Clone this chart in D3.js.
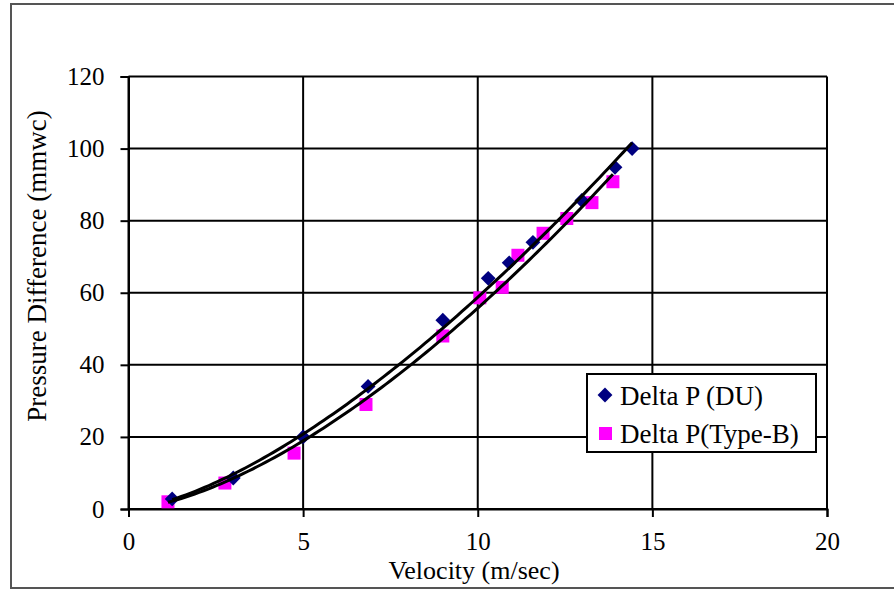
<!DOCTYPE html>
<html>
<head>
<meta charset="utf-8">
<script src="https://cdn.jsdelivr.net/npm/d3@7"></script>
<style>
  body { margin: 0; background: #fff; }
  svg text { font-family: "Liberation Serif", "Times New Roman", serif; fill: #000; }
</style>
</head>
<body>
<svg id="chart" width="894" height="589"></svg>
<script>
// velocity (m/sec) and pressure difference (mmwc)
var duVelocity = [1.25, 3.0, 5.0, 6.86, 9.0, 10.3, 10.9, 11.58, 12.98, 13.93, 14.42];
var duPressure = [2.8, 8.6, 20, 34, 52.4, 64, 68.3, 74, 85.6, 94.8, 100];

var typeBVelocity = [1.13, 2.76, 4.74, 6.8, 9.0, 10.06, 10.7, 11.15, 11.87, 12.55, 13.27, 13.87];
var typeBPressure = [2, 7.2, 15.5, 29, 48, 58.6, 61.5, 70.4, 76.5, 80.6, 85, 90.8];

var xTicks = [0, 5, 10, 15, 20];
var yTicks = [0, 20, 40, 60, 80, 100, 120];

var seriesNames = ["Delta P (DU)", "Delta P(Type-B)"];

var svg = d3.select("#chart");

// outer frame of the chart object
svg.append("rect")
  .attr("x", 11).attr("y", 4)
  .attr("width", 900).attr("height", 584)
  .attr("fill", "none")
  .attr("stroke", "#555")
  .attr("stroke-width", 2);

var x = d3.scaleLinear().domain([0, 20]).range([128.5, 827]);
var y = d3.scaleLinear().domain([0, 120]).range([509, 76.5]);

// gridlines
svg.append("g").selectAll("line")
  .data(yTicks)
  .enter().append("line")
  .attr("x1", x(0)).attr("x2", x(20))
  .attr("y1", function(d) { return y(d); })
  .attr("y2", function(d) { return y(d); })
  .attr("stroke", "#000").attr("stroke-width", 2);

svg.append("g").selectAll("line")
  .data(xTicks)
  .enter().append("line")
  .attr("y1", y(0)).attr("y2", y(120))
  .attr("x1", function(d) { return x(d); })
  .attr("x2", function(d) { return x(d); })
  .attr("stroke", "#000").attr("stroke-width", 2);

// axes
var xAxis = svg.append("g")
  .attr("transform", "translate(0," + y(0) + ")")
  .call(d3.axisBottom(x).tickValues(xTicks).tickSize(8).tickPadding(15));
var yAxis = svg.append("g")
  .attr("transform", "translate(" + x(0) + ",0)")
  .call(d3.axisLeft(y).tickValues(yTicks).tickSize(8).tickPadding(16));

[xAxis, yAxis].forEach(function(ax) {
  ax.select(".domain").attr("stroke", "#000").attr("stroke-width", 2);
  ax.selectAll(".tick line").attr("stroke", "#000").attr("stroke-width", 2);
  ax.selectAll(".tick text")
    .attr("font-size", 25)
    .attr("fill", "#000");
});

// markers
var du = duVelocity.map(function(v, i) { return [v, duPressure[i]]; });
var typeB = typeBVelocity.map(function(v, i) { return [v, typeBPressure[i]]; });

svg.append("g").selectAll("rect")
  .data(typeB)
  .enter().append("rect")
  .attr("x", function(d) { return x(d[0]) - 6.5; })
  .attr("y", function(d) { return y(d[1]) - 6.5; })
  .attr("width", 13).attr("height", 13)
  .attr("fill", "#ff00ff");

var diamond = d3.symbol().type(d3.symbolDiamond2).size(140);
svg.append("g").selectAll("path")
  .data(du)
  .enter().append("path")
  .attr("d", diamond)
  .attr("transform", function(d) { return "translate(" + x(d[0]) + "," + y(d[1]) + ")"; })
  .attr("fill", "#000080");

// power trendlines, least squares in log space like the spreadsheet does
function powerFit(pts) {
  var lx = pts.map(function(p) { return Math.log(p[0]); });
  var ly = pts.map(function(p) { return Math.log(p[1]); });
  var mx = d3.mean(lx), my = d3.mean(ly);
  var sxy = d3.sum(lx, function(v, i) { return (v - mx) * (ly[i] - my); });
  var sxx = d3.sum(lx, function(v) { return (v - mx) * (v - mx); });
  var b = sxy / sxx;
  var a = Math.exp(my - b * mx);
  var lo = d3.min(pts, function(p) { return p[0]; });
  var hi = d3.max(pts, function(p) { return p[0]; });
  return d3.range(0, 101).map(function(k) {
    var v = lo + (hi - lo) * k / 100;
    return [v, a * Math.pow(v, b)];
  });
}

var line = d3.line()
  .x(function(d) { return x(d[0]); })
  .y(function(d) { return y(d[1]); });

[du, typeB].forEach(function(pts) {
  svg.append("path")
    .attr("d", line(powerFit(pts)))
    .attr("fill", "none")
    .attr("stroke", "#000")
    .attr("stroke-width", 3);
});

// axis titles
svg.append("text")
  .attr("x", 474).attr("y", 579)
  .attr("text-anchor", "middle")
  .attr("font-size", 26)
  .text("Velocity (m/sec)");

svg.append("text")
  .attr("transform", "translate(46,266) rotate(-90)")
  .attr("text-anchor", "middle")
  .attr("font-size", 27)
  .text("Pressure Difference (mmwc)");

// legend
var legend = svg.append("g");
legend.append("rect")
  .attr("x", 587).attr("y", 374)
  .attr("width", 229).attr("height", 78)
  .attr("fill", "#fff")
  .attr("stroke", "#000")
  .attr("stroke-width", 2);

legend.append("path")
  .attr("d", diamond)
  .attr("transform", "translate(605,395)")
  .attr("fill", "#000080");
legend.append("rect")
  .attr("x", 599).attr("y", 427)
  .attr("width", 13).attr("height", 13)
  .attr("fill", "#ff00ff");

legend.selectAll("text")
  .data(seriesNames)
  .enter().append("text")
  .attr("x", 620)
  .attr("y", function(d, i) { return 405 + i * 38; })
  .attr("font-size", 27)
  .text(function(d) { return d; });
</script>
</body>
</html>
